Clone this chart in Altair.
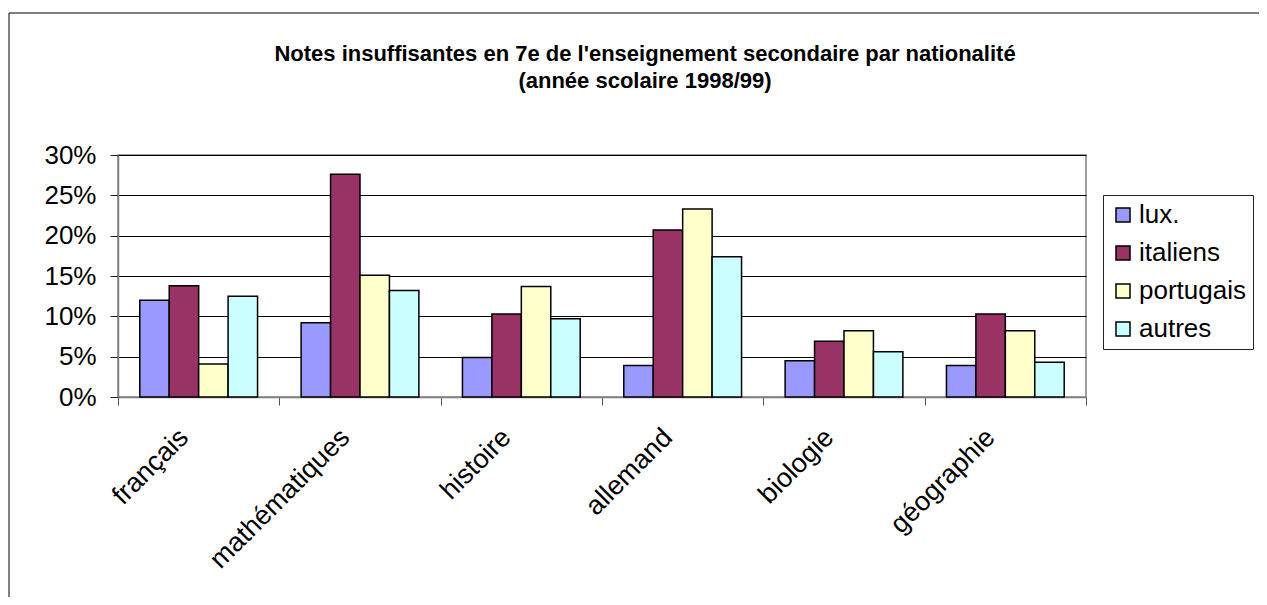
import altair as alt
import pandas as pd

subjects = ["français", "mathématiques", "histoire", "allemand", "biologie", "géographie"]
groups = ["lux.", "italiens", "portugais", "autres"]
lux = [12.0, 9.2, 4.9, 3.9, 4.5, 3.9]
italiens = [13.8, 27.6, 10.3, 20.7, 6.9, 10.3]
portugais = [4.1, 15.1, 13.7, 23.3, 8.2, 8.2]
autres = [12.5, 13.2, 9.7, 17.4, 5.6, 4.3]
colors = ["#9999FF", "#993366", "#FFFFCC", "#CCFFFF"]
y_ticks = [0, 5, 10, 15, 20, 25, 30]
title_lines = ["Notes insuffisantes en 7e de l'enseignement secondaire par nationalité",
               "(année scolaire 1998/99)"]

rows = []
for g, vals in zip(groups, [lux, italiens, portugais, autres]):
    for s, v in zip(subjects, vals):
        rows.append({"matiere": s, "nationalite": g, "valeur": v})
df = pd.DataFrame(rows)

FONT = "Liberation Sans"

bars = alt.Chart(df).mark_bar(stroke="black", strokeWidth=1.5).encode(
    x=alt.X("matiere:N", sort=subjects, title=None,
            scale=alt.Scale(paddingInner=0, paddingOuter=0),
            axis=alt.Axis(labelAngle=-45, labelAlign="right", labelBaseline="middle",
                          labelFontSize=27, labelFont=FONT, labelColor="black",
                          labelLimit=500, labelOverlap=False,
                          labelPadding=28, labelOffset=-15, tickBand="extent", tickSize=8,
                          tickColor="#555", domainColor="#808080", domainWidth=1.5,
                          grid=False)),
    xOffset=alt.XOffset("nationalite:N", sort=groups,
                        scale=alt.Scale(paddingOuter=0.74, paddingInner=0)),
    y=alt.Y("valeur:Q", title=None,
            scale=alt.Scale(domain=[0, 30], nice=False),
            axis=alt.Axis(values=y_ticks, labelExpr="datum.value + '%'",
                          labelFontSize=26, labelFont=FONT, labelColor="black",
                          labelPadding=14, tickSize=8, tickColor="#222",
                          domainColor="#808080", domainWidth=1.5,
                          grid=True, gridColor="black", gridWidth=1)),
    color=alt.Color("nationalite:N", sort=groups,
                    scale=alt.Scale(domain=groups, range=colors),
                    legend=alt.Legend(title=None, orient="none", legendX=985, legendY=40,
                                      symbolType="square", symbolSize=196,
                                      symbolStrokeColor="black", symbolStrokeWidth=1.5,
                                      labelFontSize=26, labelFont=FONT, labelColor="black",
                                      labelOffset=3, rowPadding=12, padding=7,
                                      strokeColor="#222", fillColor="white")),
)

frame = alt.Chart(pd.DataFrame({"a": [0]})).mark_rect(
    fill="transparent", stroke="black", strokeWidth=1
).encode(x=alt.value(-109), y=alt.value(-142), x2=alt.value(1400), y2=alt.value(700))

chart = alt.layer(frame, bars).properties(
    width=968, height=242,
    title=alt.TitleParams(text=title_lines, font=FONT, fontSize=22, fontWeight="bold",
                          anchor="middle", dx=43, offset=-80, lineHeight=27, color="black"),
    autosize=alt.AutoSizeParams(type="none"),
    padding={"left": 110, "top": 147, "right": 173, "bottom": 200},
).configure_view(stroke="#808080", strokeWidth=1.5)

chart.save("out.html", embed_options={"renderer": "svg", "actions": False})
